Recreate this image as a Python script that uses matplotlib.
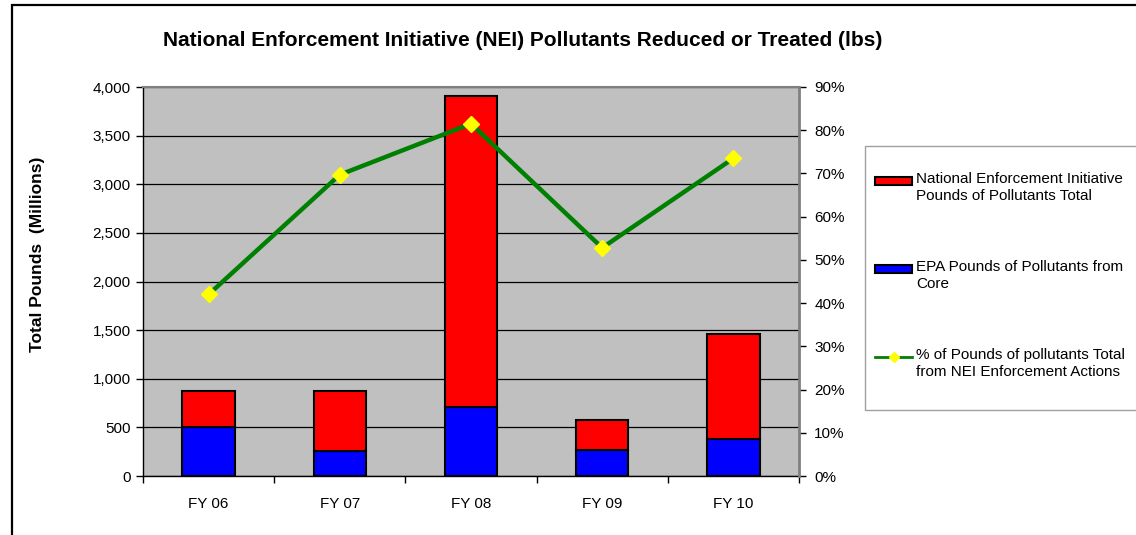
import matplotlib
matplotlib.use('Agg')
import matplotlib.pyplot as plt
from matplotlib.patches import Rectangle
from matplotlib.lines import Line2D
from matplotlib.ticker import FuncFormatter

plt.rcParams['font.family'] = ['Liberation Sans', 'DejaVu Sans']

years = ['FY 06', 'FY 07', 'FY 08', 'FY 09', 'FY 10']
core_lbs = [508, 256, 708, 266, 385]          # EPA pounds from core (millions)
nei_lbs = [368, 613, 3200, 306, 1072]         # NEI pounds (stacked on top of core)
nei_pct = [42.0, 69.7, 81.5, 52.8, 73.5]      # % of total from NEI actions

legend_labels = ['National Enforcement Initiative\nPounds of Pollutants Total',
                 'EPA Pounds of Pollutants from\nCore',
                 '% of Pounds of pollutants Total\nfrom NEI Enforcement Actions']

W, H = 1136, 535
fig = plt.figure(figsize=(W / 100, H / 100), dpi=100)
fig.patch.set_facecolor('white')

# outer frame (cut off on right / bottom like the screenshot)
fig.patches.append(Rectangle((12 / W, -0.1), 1.2, 1 - 5 / H + 0.1, transform=fig.transFigure,
                             fill=False, edgecolor='black', linewidth=1.6))

ax = fig.add_axes([143 / W, 1 - 476 / H, (799 - 143) / W, (476 - 87) / H])
ax.set_facecolor('#C0C0C0')

x = range(len(years))
ax.bar(x, core_lbs, width=0.4, color='#0000FF', edgecolor='black', linewidth=1.5, zorder=3)
ax.bar(x, nei_lbs, width=0.4, bottom=core_lbs, color='#FF0000', edgecolor='black',
       linewidth=1.5, zorder=3)

ax.set_xlim(-0.5, len(years) - 0.5)
ax.set_ylim(0, 4000)
ax.set_yticks(range(0, 4001, 500))
ax.yaxis.set_major_formatter(FuncFormatter(lambda v, p: '{:,.0f}'.format(v)))
ax.grid(axis='y', color='black', linewidth=0.9, zorder=1)
ax.set_axisbelow(True)

ax.set_xticks(list(x))
ax.set_xticklabels(years)
ax.set_xticks([i - 0.5 for i in range(len(years) + 1)], minor=True)
ax.tick_params(axis='x', which='major', length=0, pad=15, labelsize=11)
ax.tick_params(axis='x', which='minor', length=5, width=1, direction='out')
ax.tick_params(axis='y', length=5, width=1, labelsize=11, pad=4)

ax.spines['top'].set_color('#808080')
ax.spines['top'].set_linewidth(1.5)
ax.spines['right'].set_visible(False)
ax.spines['left'].set_linewidth(1)
ax.spines['bottom'].set_linewidth(1)

ax2 = ax.twinx()
ax2.plot(list(x), nei_pct, color='#008000', linewidth=3.2, marker='D', markersize=8,
         markerfacecolor='#FFFF00', markeredgecolor='#FFFF00', zorder=5)
ax2.set_ylim(0, 90)
ax2.set_yticks(range(0, 91, 10))
ax2.yaxis.set_major_formatter(FuncFormatter(lambda v, p: '%d%%' % v))
ax2.tick_params(axis='y', length=5, width=1, labelsize=11, pad=6)
ax2.spines['right'].set_color('#808080')
ax2.spines['right'].set_linewidth(2)
for s in ['top', 'left', 'bottom']:
    ax2.spines[s].set_visible(False)

fig.text(523 / W, 1 - 40 / H,
         'National Enforcement Initiative (NEI) Pollutants Reduced or Treated (lbs)',
         ha='center', va='center', fontsize=15, fontweight='bold')
fig.text(38 / W, 1 - 254 / H, 'Total Pounds  (Millions)', rotation=90,
         ha='center', va='center', fontsize=12.5, fontweight='bold')

# legend box
fig.patches.append(Rectangle((865 / W, 1 - 410 / H), 0.3, (410 - 146) / H,
                             transform=fig.transFigure, facecolor='white',
                             edgecolor='#A0A0A0', linewidth=1))
entry_y = [181, 269, 357]
for i, lab in enumerate(legend_labels):
    yy = 1 - entry_y[i] / H
    if i < 2:
        col = '#FF0000' if i == 0 else '#0000FF'
        fig.patches.append(Rectangle((875 / W, yy - 4 / H), 37 / W, 8 / H,
                                     transform=fig.transFigure, facecolor=col,
                                     edgecolor='black', linewidth=1.5))
    else:
        fig.lines.append(Line2D([875 / W, 912 / W], [yy, yy], transform=fig.transFigure,
                                color='#008000', linewidth=2))
        fig.lines.append(Line2D([893.5 / W], [yy], transform=fig.transFigure,
                                marker='D', markersize=5, color='#FFFF00'))
    fig.text(916 / W, yy + 9 / H, lab, ha='left', va='top', fontsize=11,
             linespacing=1.3)

fig.savefig('out.png', dpi=100)
